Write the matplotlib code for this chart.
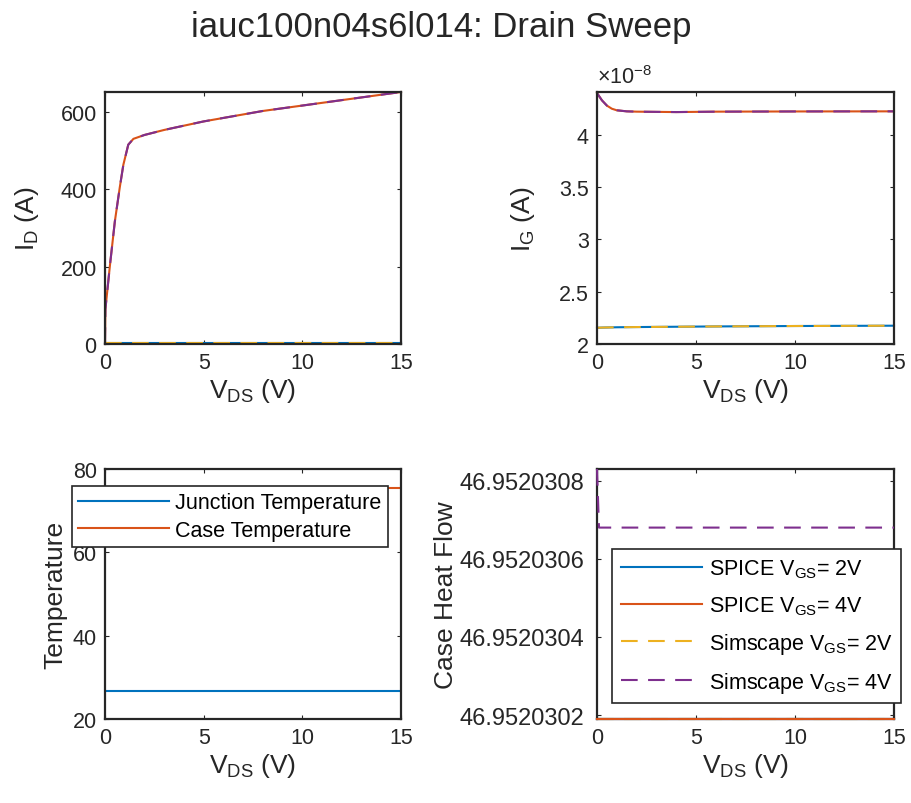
import numpy as np
import matplotlib
matplotlib.use("Agg")
import matplotlib.pyplot as plt
from matplotlib.ticker import FuncFormatter, FormatStrFormatter

plt.rcParams['font.family'] = ['Liberation Sans', 'DejaVu Sans']
plt.rcParams['mathtext.fontset'] = 'custom'
plt.rcParams['mathtext.rm'] = 'Liberation Sans'
plt.rcParams['mathtext.it'] = 'Liberation Sans:italic'
plt.rcParams['mathtext.default'] = 'regular'

# MATLAB default colours
blue, orange, yellow, purple = '#0072BD', '#D95319', '#EDB120', '#7E2F8E'
axcol = '#262626'

# --- drain current (A) ---
vds_id = [0, 0.02, 0.25, 0.5, 0.75, 0.93, 1.18, 1.44, 2, 3, 4, 5, 6, 8, 10, 12, 14, 15]
id_4v = [0, 90, 203, 317, 405, 463, 515, 530, 540, 553, 564, 575, 584, 602, 616, 630, 644, 651]
vds_lo = [0, 15]
id_2v = [2.5, 2.5]

# --- gate current (x1e-8 A) ---
vds_ig = [0, 0.25, 0.5, 0.75, 1.0, 1.5, 2, 4, 6, 10, 15]
ig_4v = [4.40, 4.33, 4.28, 4.25, 4.235, 4.225, 4.222, 4.218, 4.222, 4.224, 4.225]
ig_2v = [2.155, 2.157, 2.158, 2.159, 2.160, 2.161, 2.162, 2.165, 2.168, 2.172, 2.175]

# --- temperatures ---
t_junction = [26.8, 26.8]
t_case = [75.5, 75.5]

# --- case heat flow ---
vds_hf = [0, 0.1, 15]
hf_4v_sim = [46.95203083, 46.95203068, 46.95203068]
hf_flat = [46.95203019, 46.95203019]

W, H = 912, 804
fig = plt.figure(figsize=(W / 100, H / 100), dpi=100)


def make_ax(x0, y0, x1, y1):
    return fig.add_axes([x0 / W, 1 - y1 / H, (x1 - x0) / W, (y1 - y0) / H])


ax1 = make_ax(105, 93, 401, 345)
ax2 = make_ax(597, 93, 894, 345)
ax3 = make_ax(105, 470, 401, 720)
ax4 = make_ax(597, 470, 894, 720)

dash = (0, (8, 5))
lw = 1.5
tick_fs = 15.5
label_fs = 19
leg_fs = 15.5

# top-left
ax1.plot(vds_lo, id_2v, color=blue, lw=lw, clip_on=False)
ax1.plot(vds_id, id_4v, color=orange, lw=lw, clip_on=False)
ax1.plot(vds_lo, id_2v, color=yellow, lw=lw, ls=dash, clip_on=False)
ax1.plot(vds_id, id_4v, color=purple, lw=lw, ls=dash, clip_on=False)
ax1.set_ylim(0, 651)
ax1.set_yticks([0, 200, 400, 600])
ax1.set_ylabel('I$_D$ (A)', labelpad=14)

# top-right
ax2.plot(vds_ig, ig_2v, color=blue, lw=lw, clip_on=False)
ax2.plot(vds_ig, ig_4v, color=orange, lw=lw, clip_on=False)
ax2.plot(vds_ig, ig_2v, color=yellow, lw=lw, ls=dash, clip_on=False)
ax2.plot(vds_ig, ig_4v, color=purple, lw=lw, ls=dash, clip_on=False)
ax2.set_ylim(2, 4.41)
ax2.set_yticks([2, 2.5, 3, 3.5, 4])
ax2.yaxis.set_major_formatter(FuncFormatter(lambda v, p: f'{v:g}'))
ax2.text(0, 1.015, r'$\times$10$^{-8}$', transform=ax2.transAxes,
         fontsize=tick_fs, color=axcol, ha='left', va='bottom')
ax2.set_ylabel('I$_G$ (A)', labelpad=16)

# bottom-left
l1, = ax3.plot(vds_lo, t_junction, color=blue, lw=lw)
l2, = ax3.plot(vds_lo, t_case, color=orange, lw=lw)
ax3.set_ylim(20, 80)
ax3.set_yticks([20, 40, 60, 80])
ax3.set_ylabel('Temperature')
leg3 = ax3.legend([l1, l2], ['Junction Temperature', 'Case Temperature'],
                  loc='upper left', bbox_to_anchor=(72 / W, 1 - 487 / H),
                  bbox_transform=fig.transFigure, fontsize=leg_fs,
                  handlelength=4.2, fancybox=False, edgecolor=axcol,
                  framealpha=1, borderaxespad=0, borderpad=0.3,
                  labelspacing=0.3, handletextpad=0.3)
leg3.get_frame().set_linewidth(1.2)

# bottom-right
h1, = ax4.plot(vds_lo, hf_flat, color=blue, lw=lw, clip_on=False, zorder=2)
h3, = ax4.plot(vds_lo, hf_flat, color=yellow, lw=lw, ls=dash, clip_on=False, zorder=2)
h2, = ax4.plot(vds_lo, hf_flat, color=orange, lw=lw, clip_on=False, zorder=3)
h4, = ax4.plot(vds_hf, hf_4v_sim, color=purple, lw=lw, ls=dash, clip_on=False, zorder=3)
ax4.set_ylim(46.95203019, 46.95203083)
ax4.set_yticks([46.9520302, 46.9520304, 46.9520306, 46.9520308])
ax4.yaxis.set_major_formatter(FormatStrFormatter('%.7f'))
ax4.set_ylabel('Case Heat Flow', labelpad=1)
leg4 = ax4.legend([h1, h2, h3, h4],
                  ['SPICE V$_{GS}$= 2V', 'SPICE V$_{GS}$= 4V',
                   'Simscape V$_{GS}$= 2V', 'Simscape V$_{GS}$= 4V'],
                  loc='upper left', bbox_to_anchor=(612 / W, 1 - 550 / H),
                  bbox_transform=fig.transFigure, fontsize=leg_fs,
                  handlelength=3.8, fancybox=False, edgecolor=axcol,
                  framealpha=1, borderaxespad=0, borderpad=0.4,
                  labelspacing=0.65, handletextpad=0.3)
leg4.get_frame().set_linewidth(1.2)

for ax in (ax1, ax2, ax3, ax4):
    ax.set_xlim(0, 15)
    ax.set_xticks([0, 5, 10, 15])
    ax.set_xlabel('V$_{DS}$ (V)', fontsize=label_fs, color=axcol, labelpad=2)
    ax.yaxis.label.set_size(label_fs)
    ax.yaxis.label.set_color(axcol)
    ax.tick_params(direction='in', length=3, width=0.8, labelsize=tick_fs,
                   colors=axcol, top=True, right=True, pad=6)
    for s in ax.spines.values():
        s.set_color(axcol)
        s.set_linewidth(1.6)
ax4.tick_params(axis='y', labelsize=17, pad=9)

fig.suptitle('iauc100n04s6l014: Drain Sweep', fontsize=25, x=441 / W,
             y=1 - 28 / H, va='center', color=axcol)

fig.savefig('out.png', dpi=100)
